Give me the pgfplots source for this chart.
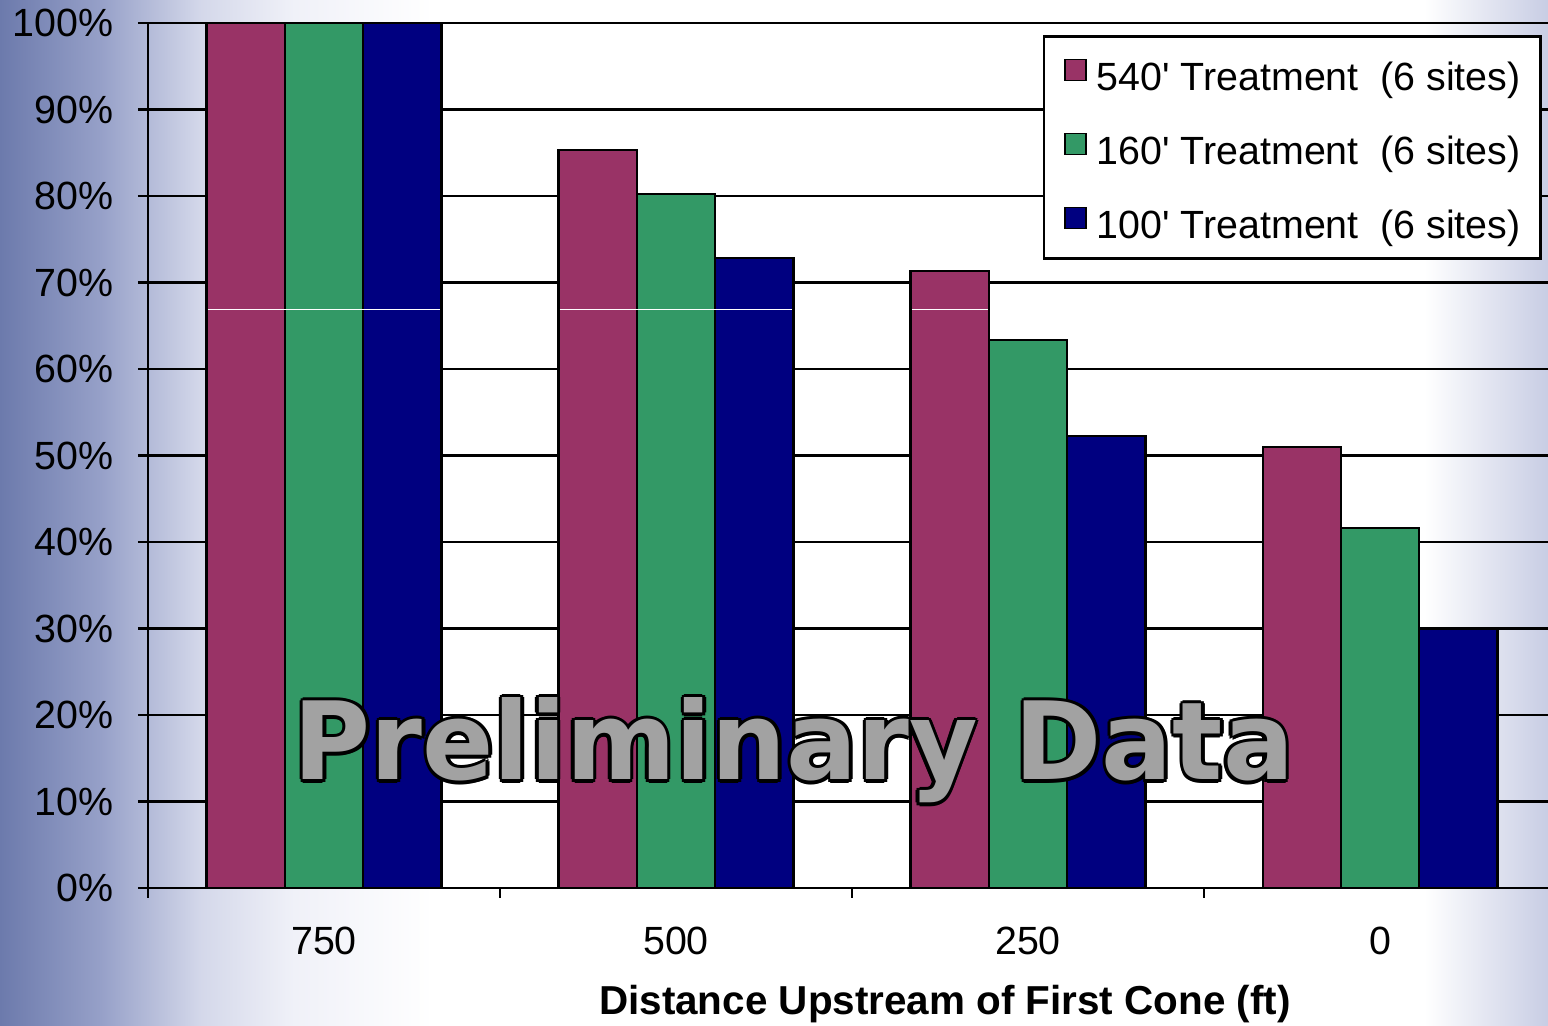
\documentclass[border=0pt]{standalone}
\usepackage{pgfplots}
\pgfplotsset{compat=1.18}
\usepackage{fontspec}
\setmainfont{Liberation Sans}
\newfontfamily\wmfont{DejaVu Sans}
\definecolor{cmaroon}{RGB}{153,51,102}
\definecolor{cgreen}{RGB}{51,153,102}
\definecolor{cnavy}{RGB}{0,0,128}
\definecolor{bgA}{RGB}{108,122,172}
\definecolor{bgB}{RGB}{150,160,200}
\definecolor{bgC}{RGB}{212,216,234}
\definecolor{bgD}{RGB}{240,241,248}
\definecolor{bgE}{RGB}{200,205,228}
\definecolor{wmgray}{RGB}{162,162,162}
\pgfdeclarehorizontalshading{slidebg}{100bp}{color(0bp)=(bgA); color(25bp)=(bgA); color(28.25bp)=(bgB); color(31.5bp)=(bgC); color(34.5bp)=(bgD); color(39bp)=(white); color(71bp)=(white); color(75bp)=(bgE); color(100bp)=(bgE)}
\pgfplotsset{mylegend/.style={legend image code/.code={\draw[##1, draw=black, line width=0.5pt] (0cm,-0.07cm) rectangle (0.21cm,0.14cm);}}}
\newcommand\wmtext{\resizebox{10cm}{0.82cm}{\wmfont\bfseries Preliminary Data}}
\begin{document}
\begin{tikzpicture}[x=1cm,y=1cm]
\useasboundingbox (0,0) rectangle (15.48,10.26);
\begin{scope}
\clip (0,0) rectangle (15.48,10.26);
\shade[shading=slidebg] (0,0) rectangle (15.48,10.26);
\begin{axis}[
  scale only axis, width=14.08cm, height=8.65cm,
  at={(1.48cm,1.38cm)}, anchor=south west,
  xmin=-0.5, xmax=3.5, ymin=0, ymax=100,
  ybar=0pt, bar width=0.783cm,
  axis lines*=left, axis line style={black, line width=0.8pt},
  tick align=outside, major tick length=0.1cm, minor tick length=0.1cm,
  xtick={0,1,2,3}, xticklabels={750,500,250,0},
  minor xtick={-0.5,0.5,1.5,2.5},
  major x tick style={draw=none},
  tick style={black, line width=0.6pt},
  ytick={0,10,20,30,40,50,60,70,80,90,100},
  yticklabels={0\%,10\%,20\%,30\%,40\%,50\%,60\%,70\%,80\%,90\%,100\%},
  ymajorgrids, grid style={black, line width=0.6pt},
  /pgf/number format/assume math mode=true,
  ticklabel style={font=\fontsize{11.2}{13}\selectfont},
  yticklabel style={xshift=-0.12cm},
  xticklabel style={anchor=base, yshift=-0.57cm},
  legend style={at={(1,1)}, anchor=north east, xshift=-0.14cm, yshift=-0.12cm,
    draw=black, line width=0.8pt, fill=white,
    font=\fontsize{11.2}{13}\selectfont,
    inner xsep=0.2cm, inner ysep=0.18cm, row sep=0.36cm,
    nodes={inner sep=0pt, text height=0.36cm, text depth=0.02cm},
    /tikz/every odd column/.append style={column sep=0.1cm}},
  legend cell align=left,
]
\addplot[fill=cmaroon, draw=black, line width=0.6pt, mylegend] coordinates {(0,100) (1,85.3) (2,71.3) (3,51.0)};
\addplot[fill=cgreen, draw=black, line width=0.6pt, mylegend] coordinates {(0,100) (1,80.2) (2,63.4) (3,41.6)};
\addplot[fill=cnavy, draw=black, line width=0.6pt, mylegend] coordinates {(0,100) (1,72.8) (2,52.3) (3,29.9)};
\legend{540\textquotesingle{} Treatment~ (6 sites),160\textquotesingle{} Treatment~ (6 sites),100\textquotesingle{} Treatment~ (6 sites)}
\draw[white, line width=0.4pt] (axis cs:-0.33,66.9) -- (axis cs:0.33,66.9);
\draw[white, line width=0.4pt] (axis cs:0.67,66.9) -- (axis cs:1.33,66.9);
\draw[white, line width=0.4pt] (axis cs:1.67,66.9) -- (axis cs:1.885,66.9);
\end{axis}
\foreach \dx/\dy in {0.035/0,-0.035/0,0/0.035,0/-0.035,0.025/0.025,-0.025/0.025,0.025/-0.025,-0.025/-0.025}
  \node[anchor=base west, inner sep=0pt, text=black] at (2.93+\dx,2.46+\dy) {\wmtext};
\node[anchor=base west, inner sep=0pt, text=wmgray] at (2.93,2.46) {\wmtext};
\node[anchor=base, inner sep=0pt, font=\fontsize{11.5}{13}\selectfont\bfseries] at (9.45,0.11) {Distance Upstream of First Cone (ft)};
\end{scope}
\end{tikzpicture}
\end{document}
